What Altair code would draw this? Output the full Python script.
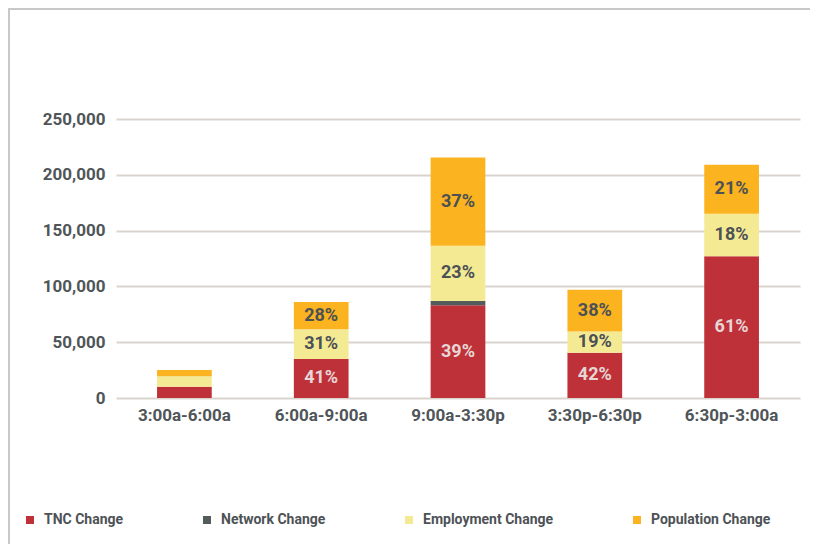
import altair as alt
import pandas as pd

periods = ["3:00a-6:00a", "6:00a-9:00a", "9:00a-3:30p", "3:30p-6:30p", "6:30p-3:00a"]
series = ["TNC Change", "Network Change", "Employment Change", "Population Change"]
colors = ["#bf3139", "#545b5c", "#f5ea94", "#fbb31f"]

tnc = [10000, 35000, 83000, 40500, 127000]
network = [0, 0, 4000, 0, 0]
employment = [9500, 26500, 49500, 19000, 38000]
population = [5500, 24500, 79000, 37500, 44000]

tnc_pct = ["", "41%", "39%", "42%", "61%"]
network_pct = ["", "", "", "", ""]
emp_pct = ["", "31%", "23%", "19%", "18%"]
pop_pct = ["", "28%", "37%", "38%", "21%"]

values = [tnc, network, employment, population]
pcts = [tnc_pct, network_pct, emp_pct, pop_pct]
text_colors = ["#e6d6d6", "#4b5154", "#4b5154", "#4b5154"]

rows = []
for si, s in enumerate(series):
    for pi, p in enumerate(periods):
        rows.append({
            "period": p,
            "series": s,
            "order": si,
            "value": values[si][pi],
            "label": pcts[si][pi],
            "tcolor": text_colors[si],
        })
df = pd.DataFrame(rows)

W, H = 684, 279
PL, PT, PR, PB = 108, 111, 10, 146

FONT = "Roboto, 'DejaVu Sans', sans-serif"

base = alt.Chart(df).transform_stack(
    stack="value", groupby=["period"], sort=[alt.SortField("order", "ascending")], as_=["y0", "y1"]
)

x_enc = alt.X(
    "period:N",
    sort=periods,
    scale=alt.Scale(paddingInner=0.6, paddingOuter=0.3),
    axis=alt.Axis(title=None, labelAngle=0, ticks=False, domain=False, grid=False, labelPadding=9,
                  labelFont=FONT, labelFontSize=17, labelFontWeight="bold", labelColor="#4f5558"),
)

bars = base.mark_bar().encode(
    x=x_enc,
    y=alt.Y("y0:Q",
            scale=alt.Scale(domain=[0, 250000], nice=False),
            axis=alt.Axis(title=None, values=[0, 50000, 100000, 150000, 200000, 250000], format=",d",
                          ticks=False, domain=False, labelPadding=11, gridColor="#d9d3ce", gridWidth=2,
                          labelFont=FONT, labelFontSize=17, labelFontWeight="bold", labelColor="#4f5558")),
    y2="y1:Q",
    color=alt.Color("series:N", scale=alt.Scale(domain=series, range=colors),
                    legend=alt.Legend(title=None, orient="none", direction="horizontal",
                                      legendX=-93, legendY=394, padding=0,
                                      symbolType="square", symbolSize=64, symbolStrokeWidth=0,
                                      labelFont=FONT, labelFontSize=14, labelFontWeight="bold",
                                      labelColor="#4d5256", labelOffset=7, columnPadding=76,
                                      labelLimit=300)),
    order=alt.Order("order:Q"),
)

texts = base.transform_calculate(mid="(datum.y0 + datum.y1) / 2").mark_text(
    font=FONT, fontSize=18, fontWeight="bold", baseline="middle", align="center"
).encode(
    x=alt.X("period:N", sort=periods),
    y=alt.Y("mid:Q"),
    text="label:N",
    color=alt.Color("tcolor:N", scale=None),
)

frame_df = pd.DataFrame({"k": [0]})
left_line = alt.Chart(frame_df).mark_rule(color="#c8c8c8", strokeWidth=2).encode(
    x=alt.value(-PL + 1), y=alt.value(-PT), y2=alt.value(H + PB)
)
top_line = alt.Chart(frame_df).mark_rule(color="#c8c8c8", strokeWidth=2).encode(
    y=alt.value(-PT + 1), x=alt.value(-PL), x2=alt.value(W + PR)
)

chart = alt.layer(bars, texts, left_line, top_line).properties(
    width=W, height=H,
    background="white",
    autosize=alt.AutoSizeParams(type="none"),
    padding={"left": PL, "top": PT, "right": PR, "bottom": PB},
).configure_view(stroke="transparent", strokeWidth=0)

chart.save("out.html", embed_options={"renderer": "svg", "actions": False})
